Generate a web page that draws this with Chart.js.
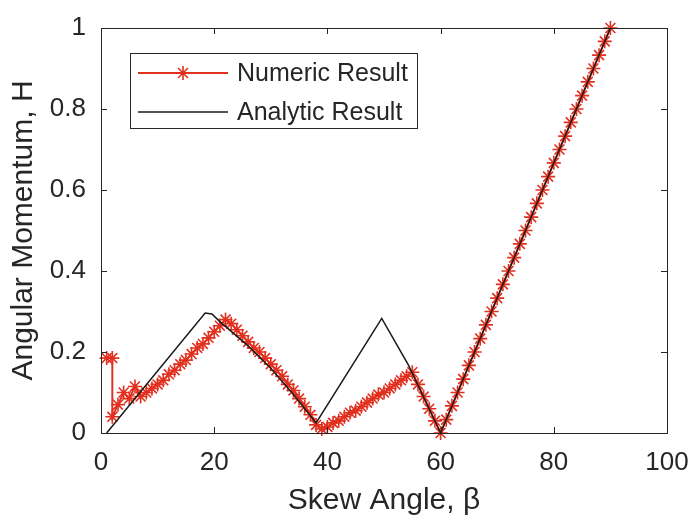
<!DOCTYPE html>
<html><head><meta charset="utf-8">
<script src="https://cdn.jsdelivr.net/npm/chart.js@4/dist/chart.umd.min.js"></script>
<style>html,body{margin:0;padding:0;background:#fff}#wrap{width:693px;height:523px}</style>
</head><body><div id="wrap"><canvas id="c" width="693" height="523"></canvas></div>
<script>
const numericX = [1, 2, 2, 3, 4, 5, 6, 7, 8, 9, 10, 11, 12, 13, 14, 15, 16, 17, 18, 19, 20,
  21, 22, 23, 24, 25, 26, 27, 28, 29, 30, 31, 32, 33, 34, 35, 36, 37, 38, 39, 40,
  41, 42, 43, 44, 45, 46, 47, 48, 49, 50, 51, 52, 53, 54, 55, 56, 57, 58, 59, 60,
  61, 62, 63, 64, 65, 66, 67, 68, 69, 70, 71, 72, 73, 74, 75, 76, 77, 78, 79, 80,
  81, 82, 83, 84, 85, 86, 87, 88, 89, 90];
const numericY = [0.185, 0.185, 0.04, 0.07, 0.10, 0.085, 0.115, 0.09, 0.10, 0.11, 0.12,
  0.13, 0.145, 0.155, 0.17, 0.18, 0.195, 0.21, 0.22, 0.235, 0.25,
  0.265, 0.28, 0.27, 0.255, 0.24, 0.225, 0.21, 0.20, 0.185, 0.17,
  0.155, 0.14, 0.12, 0.105, 0.085, 0.065, 0.045, 0.02, 0.01, 0.015,
  0.025, 0.03, 0.04, 0.05, 0.055, 0.065, 0.075, 0.085, 0.095, 0.10,
  0.11, 0.12, 0.13, 0.14, 0.15, 0.12, 0.09, 0.06, 0.03, 0.0,
  0.033, 0.067, 0.10, 0.133, 0.167, 0.20, 0.233, 0.267, 0.30, 0.333,
  0.367, 0.40, 0.433, 0.467, 0.50, 0.533, 0.567, 0.60, 0.633, 0.667,
  0.70, 0.733, 0.767, 0.80, 0.833, 0.867, 0.90, 0.933, 0.967, 1.0];
const analyticX = [1, 18.4, 19.6, 21, 26, 30, 34, 38, 49.6, 54.3, 60, 90];
const analyticY = [0, 0.296, 0.294, 0.275, 0.215, 0.16, 0.095, 0.025, 0.283, 0.168, 0, 1];
const xTicks = [0, 20, 40, 60, 80, 100];
const yTicks = [0, 0.2, 0.4, 0.6, 0.8, 1];
const seriesNames = ['Numeric Result', 'Analytic Result'];
const xTitle = 'Skew Angle, \u03B2';
const yTitle = 'Angular Momentum, H';

const RED = '#e2301f';
const INK = '#262626';
const FONT = "'Liberation Sans', Arial, sans-serif";

const toPts = (xs, ys) => xs.map((x, i) => ({x: x, y: ys[i]}));

const boxPlugin = {
  id: 'boxPlugin',
  afterDraw(chart) {
    const {ctx, chartArea: a, scales} = chart;
    ctx.save();
    ctx.strokeStyle = INK;
    ctx.lineWidth = 1;
    ctx.strokeRect(Math.round(a.left) + 0.5, Math.round(a.top) + 0.5,
      Math.round(a.right - a.left), Math.round(a.bottom - a.top));
    const tl = 6;
    ctx.beginPath();
    xTicks.forEach(v => {
      const px = Math.round(scales.x.getPixelForValue(v)) + 0.5;
      ctx.moveTo(px, a.bottom); ctx.lineTo(px, a.bottom - tl);
      ctx.moveTo(px, a.top); ctx.lineTo(px, a.top + tl);
    });
    yTicks.forEach(v => {
      const py = Math.round(scales.y.getPixelForValue(v)) + 0.5;
      ctx.moveTo(a.left, py); ctx.lineTo(a.left + tl, py);
      ctx.moveTo(a.right, py); ctx.lineTo(a.right - tl, py);
    });
    ctx.stroke();

    // legend
    const lx = 130, ly = 53, lw = 287, lh = 75;
    ctx.fillStyle = '#fff';
    ctx.fillRect(lx, ly, lw, lh);
    ctx.strokeStyle = INK;
    ctx.strokeRect(lx + 0.5, ly + 0.5, lw, lh);
    const rows = [73, 112];
    const ds = chart.data.datasets;
    ctx.font = '25px ' + FONT;
    ctx.textBaseline = 'middle';
    ctx.textAlign = 'left';
    rows.forEach((ry, i) => {
      ctx.strokeStyle = ds[i].borderColor;
      ctx.lineWidth = ds[i].borderWidth;
      ctx.beginPath();
      ctx.moveTo(138, ry); ctx.lineTo(228, ry);
      ctx.stroke();
      if (ds[i].pointRadius > 0) {
        const r = ds[i].pointRadius;
        const cx = 183;
        ctx.lineWidth = ds[i].pointBorderWidth;
        ctx.beginPath();
        ctx.moveTo(cx - r, ry); ctx.lineTo(cx + r, ry);
        ctx.moveTo(cx, ry - r); ctx.lineTo(cx, ry + r);
        const d = r * 0.707;
        ctx.moveTo(cx - d, ry - d); ctx.lineTo(cx + d, ry + d);
        ctx.moveTo(cx - d, ry + d); ctx.lineTo(cx + d, ry - d);
        ctx.stroke();
      }
      ctx.fillStyle = INK;
      ctx.fillText(seriesNames[i], 237, ry + 1);
    });
    ctx.restore();
  }
};

new Chart(document.getElementById('c'), {
  type: 'line',
  data: {
    datasets: [
      {
        label: seriesNames[0],
        data: toPts(numericX, numericY),
        borderColor: RED,
        backgroundColor: RED,
        borderWidth: 2,
        pointStyle: 'star',
        pointRadius: 7,
        pointBorderWidth: 1.6,
        pointBorderColor: RED,
        tension: 0,
        clip: false,
        order: 2
      },
      {
        label: seriesNames[1],
        data: toPts(analyticX, analyticY),
        borderColor: '#1a1a1a',
        backgroundColor: '#1a1a1a',
        borderWidth: 1.5,
        pointRadius: 0,
        tension: 0,
        clip: false,
        order: 1
      }
    ]
  },
  options: {
    responsive: false,
    animation: false,
    devicePixelRatio: 1,
    layout: {padding: {left: 0, right: 26, top: 28, bottom: 0}},
    plugins: {legend: {display: false}, tooltip: {enabled: false}},
    scales: {
      x: {
        type: 'linear', min: 0, max: 100,
        afterBuildTicks: s => { s.ticks = xTicks.map(v => ({value: v})); },
        afterFit: s => { s.height = 90; s.paddingLeft = 0; s.paddingRight = 0; },
        grid: {display: false, drawTicks: false},
        border: {display: false},
        ticks: {color: INK, font: {family: FONT, size: 26}, padding: 14, maxRotation: 0,
          callback: v => String(v)},
        title: {display: true, text: xTitle, color: INK, font: {family: FONT, size: 30}, padding: {top: 0, bottom: 4}}
      },
      y: {
        type: 'linear', min: 0, max: 1,
        afterBuildTicks: s => { s.ticks = yTicks.map(v => ({value: v})); },
        afterFit: s => { s.width = 101; s.paddingTop = 0; s.paddingBottom = 0; },
        grid: {display: false, drawTicks: false},
        border: {display: false},
        ticks: {color: INK, font: {family: FONT, size: 26}, padding: 15,
          callback: v => String(+Number(v).toFixed(1))},
        title: {display: true, text: yTitle, color: INK, font: {family: FONT, size: 30}, padding: {top: 6, bottom: 0}}
      }
    }
  },
  plugins: [boxPlugin]
});
</script>
</body></html>
